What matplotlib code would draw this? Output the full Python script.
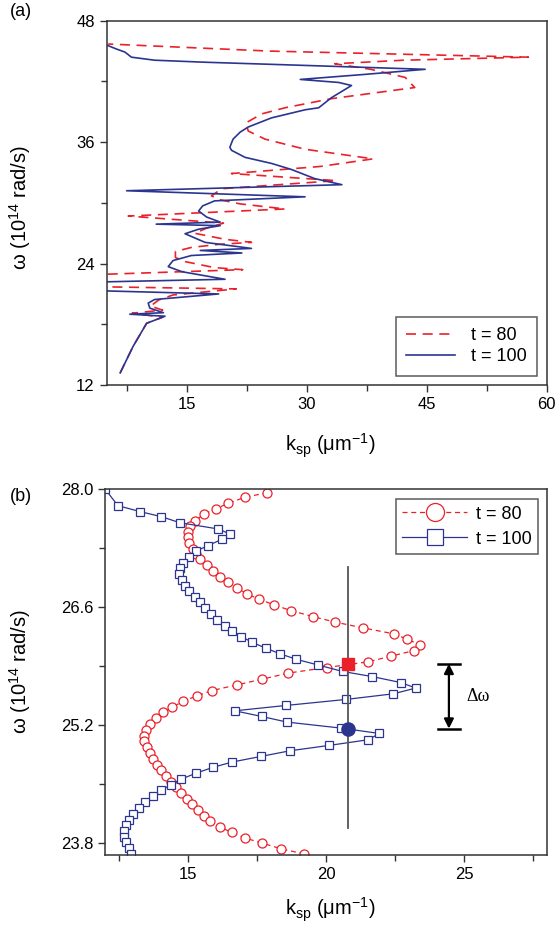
import matplotlib
matplotlib.use("Agg")
import matplotlib.pyplot as plt
from matplotlib.ticker import FixedLocator

plt.rcParams['font.family'] = ['Liberation Sans', 'DejaVu Sans']
plt.rcParams['mathtext.fontset'] = 'custom'
plt.rcParams['mathtext.rm'] = 'Liberation Sans'
plt.rcParams['mathtext.it'] = 'Liberation Sans:italic'

RED = '#ec2029'
BLUE = '#2b3590'

# ---------------- panel (a) data ----------------
a_w100 = [13.2, 15.8, 18.1, 18.8, 19.0, 19.15, 19.6, 20.1, 20.45, 21.0, 21.3, 21.75, 22.2, 22.45,
          23.2, 23.7, 24.3, 24.8, 25.05, 25.3, 25.5, 26.1, 26.95, 27.4, 27.75, 27.9, 28.1, 28.6,
          29.2, 29.7, 30.2, 30.6, 31.2, 31.8, 32.4, 33.3, 33.9, 34.5, 35.2, 35.5, 36.3, 37.0,
          37.5, 38.4, 39.2, 39.4, 40.4, 41.6, 41.9, 42.2, 42.7, 43.2, 43.6, 43.9, 44.1, 44.4,
          44.9, 45.2, 45.6]
a_k100 = [6.7, 8.3, 10.0, 12.3, 7.9, 12.1, 10.4, 10.2, 11.0, 19.0, 5.0, 2.0, 5.0, 19.8,
          14.4, 12.7, 13.3, 15.6, 21.9, 16.7, 23.1, 17.3, 14.8, 16.5, 19.2, 11.2, 19.2, 17.5,
          16.5, 17.0, 18.5, 29.8, 7.5, 34.4, 31.0, 28.1, 25.6, 22.3, 20.6, 20.4, 20.8, 21.7,
          22.7, 25.6, 29.8, 31.5, 33.1, 35.6, 34.0, 29.2, 37.3, 44.8, 29.2, 17.3, 11.0, 8.1,
          7.3, 6.25, 5.0]

a_w80 = [13.2, 15.8, 18.1, 18.7, 19.1, 19.4, 19.8, 20.4, 20.9, 21.5, 21.7, 22.35, 22.95, 23.4,
         23.6, 24.2, 24.6, 25.2, 25.6, 25.9, 26.1, 26.4, 27.0, 27.5, 28.0, 28.7, 29.4, 29.9,
         30.3, 30.7, 31.4, 32.2, 32.9, 33.2, 33.6, 34.35, 35.3, 36.3, 37.1, 37.9, 38.8, 39.4,
         40.3, 41.4, 42.4, 43.2, 43.75, 44.1, 44.4, 45.0, 45.7]
a_k80 = [6.7, 8.3, 10.0, 12.0, 8.2, 12.0, 10.5, 11.5, 13.3, 21.2, 5.0, 2.0, 5.0, 22.0,
         18.5, 14.8, 13.6, 13.6, 15.6, 19.0, 23.1, 19.8, 16.0, 17.5, 19.6, 7.7, 27.3, 21.7,
         19.2, 18.1, 19.4, 33.7, 20.6, 25.4, 31.7, 38.3, 29.8, 24.8, 22.7, 22.4, 24.4, 27.3,
         33.1, 43.5, 42.3, 38.0, 33.5, 42.1, 57.7, 25.4, 5.2]

# ---------------- panel (b) data ----------------
b_k80 = [17.87, 17.05, 16.45, 15.99, 15.56, 15.26, 15.08, 15.00, 15.00, 15.04, 15.18, 15.30,
         15.44, 15.69, 15.89, 16.15, 16.45, 16.78, 17.14, 17.56, 18.11, 18.72, 19.52, 20.33,
         21.33, 22.45, 22.93, 23.41, 23.20, 22.35, 21.53, 20.03, 18.63, 17.69, 16.78, 15.87,
         15.32, 14.80, 14.41, 14.09, 13.82, 13.63, 13.48, 13.41, 13.41, 13.51, 13.60, 13.72,
         13.87, 14.03, 14.20, 14.38, 14.56, 14.75, 14.94, 15.14, 15.35, 15.56, 15.78, 16.15,
         16.57, 17.05, 17.66, 18.38, 19.20]
b_w80 = [27.962, 27.907, 27.836, 27.769, 27.706, 27.630, 27.567, 27.499, 27.433, 27.362,
         27.291, 27.229, 27.172, 27.104, 27.037, 26.966, 26.899, 26.828, 26.760, 26.698,
         26.630, 26.562, 26.491, 26.425, 26.357, 26.286, 26.223, 26.155, 26.088, 26.021,
         25.954, 25.886, 25.820, 25.748, 25.681, 25.613, 25.550, 25.483, 25.412, 25.352,
         25.281, 25.215, 25.147, 25.076, 25.008, 24.942, 24.871, 24.803, 24.732, 24.664,
         24.597, 24.530, 24.462, 24.395, 24.328, 24.261, 24.194, 24.127, 24.059, 23.993,
         23.929, 23.862, 23.803, 23.732, 23.673]

b_k100 = [11.3, 12.0, 12.45, 13.26, 14.03, 14.69, 16.09, 16.51, 16.23, 15.71, 15.30, 15.02,
          14.81, 14.69, 14.68, 14.78, 14.90, 15.04, 15.24, 15.42, 15.60, 15.81, 16.05, 16.32,
          16.60, 16.92, 17.32, 17.81, 18.33, 18.92, 19.72, 20.60, 21.66, 22.70, 23.25, 22.44,
          20.72, 18.53, 16.69, 17.66, 18.58, 20.53, 21.93, 21.52, 20.11, 18.70, 17.63, 16.60,
          15.89, 15.30, 14.75, 14.38, 14.01, 13.71, 13.44, 13.20, 13.00, 12.85, 12.75, 12.69,
          12.69, 12.75, 12.84, 12.93]
b_w100 = [28.12, 28.0, 27.808, 27.737, 27.677, 27.606, 27.531, 27.472, 27.409, 27.333,
          27.270, 27.203, 27.132, 27.065, 26.998, 26.926, 26.859, 26.796, 26.728, 26.662,
          26.591, 26.523, 26.452, 26.384, 26.321, 26.254, 26.185, 26.116, 26.049, 25.983,
          25.915, 25.839, 25.779, 25.708, 25.642, 25.574, 25.507, 25.435, 25.372, 25.305,
          25.238, 25.167, 25.103, 25.028, 24.961, 24.898, 24.830, 24.764, 24.700, 24.633,
          24.562, 24.495, 24.427, 24.356, 24.289, 24.218, 24.151, 24.079, 24.012, 23.941,
          23.874, 23.810, 23.744, 23.673]

mark_k = 20.78
red_sq_w = 25.93
blue_dot_w = 25.16
vline_w = [23.98, 27.08]
dw_k = 24.45

FS = 12
LFS = 14.5
LEGFS = 13

fig = plt.figure(figsize=(5.58, 9.26), dpi=100)
ax1 = fig.add_axes([0.191, 0.5842, 0.789, 0.3934])
ax2 = fig.add_axes([0.189, 0.0767, 0.791, 0.3947])

for ax in (ax1, ax2):
    for s in ax.spines.values():
        s.set_linewidth(1.1)
        s.set_color('#333333')
    ax.tick_params(which='both', direction='out', top=False, right=False,
                   labelsize=FS, color='#333333', width=1.0)
    ax.tick_params(which='major', length=5)
    ax.tick_params(which='minor', length=4)

# panel (a)
ax1.plot(a_k80, a_w80, color=RED, lw=1.2, ls=(0, (6, 4)), label='t = 80')
ax1.plot(a_k100, a_w100, color=BLUE, lw=1.2, label='t = 100')
ax1.set_xlim(5, 60)
ax1.set_ylim(12, 48)
ax1.set_xticks([15, 30, 45, 60])
ax1.xaxis.set_minor_locator(FixedLocator([7.5, 22.5, 37.5, 52.5]))
ax1.set_yticks([12, 24, 36, 48])
ax1.yaxis.set_minor_locator(FixedLocator([18, 30, 42]))
leg1 = ax1.legend(loc='lower right', bbox_to_anchor=(0.978, 0.025), borderaxespad=0,
                  fontsize=LEGFS, fancybox=False, edgecolor='#333333', handlelength=2.7,
                  labelspacing=0.2, borderpad=0.6, handletextpad=0.85)
leg1.get_frame().set_linewidth(1.1)

# panel (b)
ax2.plot(b_k80, b_w80, color=RED, lw=0.9, ls=(0, (4, 3)), marker='o', ms=6.5,
         mfc='white', mec=RED, mew=0.9, label='t = 80')
ax2.plot(b_k100, b_w100, color=BLUE, lw=0.9, marker='s', ms=6.0,
         mfc='white', mec=BLUE, mew=0.9, label='t = 100')
ax2.plot([mark_k, mark_k], vline_w, color='#555555', lw=1.3, zorder=4)
ax2.plot([mark_k], [red_sq_w], marker='s', ms=9, color=RED, zorder=5)
ax2.plot([mark_k], [blue_dot_w], marker='o', ms=9.5, color=BLUE, zorder=5)
ax2.annotate('', xy=(dw_k, blue_dot_w), xytext=(dw_k, red_sq_w),
             arrowprops=dict(arrowstyle='<|-|>', lw=1.6, color='black',
                             mutation_scale=14, shrinkA=0, shrinkB=0))
ax2.plot([dw_k - 0.4, dw_k + 0.4], [red_sq_w, red_sq_w], color='black', lw=1.8)
ax2.plot([dw_k - 0.4, dw_k + 0.4], [blue_dot_w, blue_dot_w], color='black', lw=1.8)
ax2.text(25.5, 25.54, 'Δω', fontsize=13, family=['Liberation Serif', 'DejaVu Serif'],
         ha='center', va='center')
ax2.set_xlim(12, 28)
ax2.set_ylim(23.66, 28.0)
ax2.set_xticks([15, 20, 25])
ax2.xaxis.set_minor_locator(FixedLocator([12.5, 17.5, 22.5, 27.5]))
ax2.set_yticks([23.8, 25.2, 26.6, 28.0])
ax2.set_yticklabels(['23.8', '25.2', '26.6', '28.0'])
ax2.yaxis.set_minor_locator(FixedLocator([24.5, 25.9, 27.3]))
leg2 = ax2.legend(loc='upper right', bbox_to_anchor=(0.979, 0.973), borderaxespad=0,
                  fontsize=LEGFS, fancybox=False, edgecolor='#333333', handlelength=3.6,
                  markerscale=2.0, labelspacing=0.45, borderpad=0.35, handletextpad=0.45)
leg2.get_frame().set_linewidth(1.1)

# labels
ylab = 'ω (10$^{14}$ rad/s)'
xlab = 'k$_{\\mathrm{sp}}$ (μm$^{-1}$)'
fig.text(20 / 558, 1 - 208 / 926, ylab, rotation=90, ha='center', va='center', fontsize=LFS)
fig.text(20 / 558, 1 - 672 / 926, ylab, rotation=90, ha='center', va='center', fontsize=LFS)
fig.text(330 / 558, 1 - 446 / 926, xlab, ha='center', va='center', fontsize=LFS)
fig.text(330 / 558, 1 - 910 / 926, xlab, ha='center', va='center', fontsize=LFS)
fig.text(21 / 558, 1 - 12 / 926, '(a)', ha='center', va='center', fontsize=13)
fig.text(21 / 558, 1 - 496 / 926, '(b)', ha='center', va='center', fontsize=13)

fig.savefig('out.png', dpi=100)
